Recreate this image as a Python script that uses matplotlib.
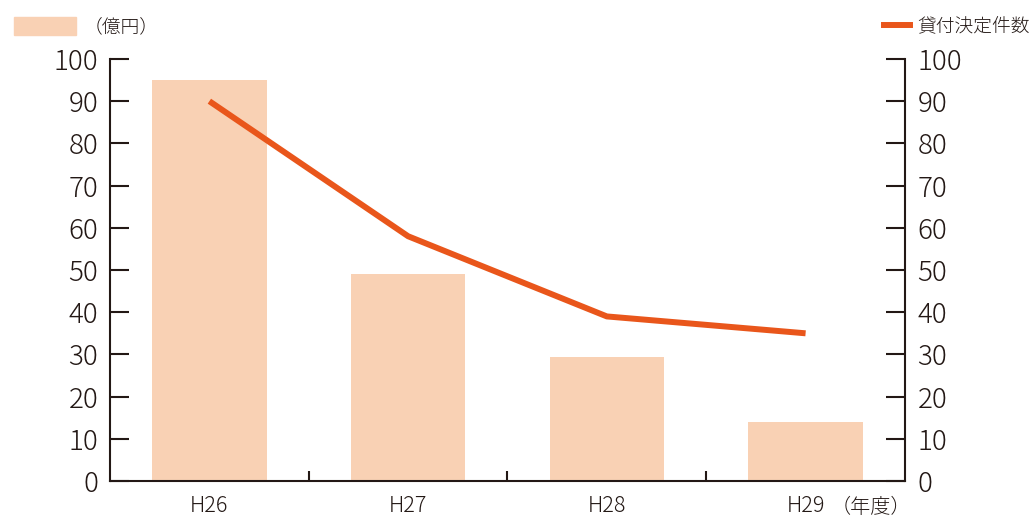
import matplotlib
matplotlib.use("Agg")
import matplotlib.pyplot as plt
from matplotlib.patches import Patch
from matplotlib.lines import Line2D

plt.rcParams['font.family'] = ['Noto Sans CJK JP', 'DejaVu Sans']
plt.rcParams['font.weight'] = 'light'

# data
years = ["H26", "H27", "H28", "H29"]
amount = [95, 49, 29.5, 14]        # 億円 (bars, left axis)
decisions = [90, 58, 39, 35]       # 貸付決定件数 (line, right axis)
yticks = list(range(0, 101, 10))

bar_color = "#F9D1B4"
line_color = "#E9561B"
ink = "#231815"

fig = plt.figure(figsize=(10.30, 5.17), dpi=100)
ax = fig.add_axes([0.1068, 0.0696, 0.7718, 0.8163])
ax2 = ax.twinx()

x = list(range(len(years)))
ax.bar(x, amount, width=0.575, color=bar_color, zorder=1)
ax2.plot(x, decisions, color=line_color, lw=4.3, solid_capstyle='butt', zorder=3)

for a in (ax, ax2):
    a.set_ylim(0, 100)
    a.set_xlim(-0.5, 3.5)
    a.set_yticks(yticks)
    for s in a.spines.values():
        s.set_color(ink)
        s.set_linewidth(1.5)
    a.spines['top'].set_visible(False)

ax.spines['right'].set_visible(False)
ax2.spines['left'].set_visible(False)
ax2.spines['bottom'].set_visible(False)

ax.tick_params(axis='y', direction='in', length=14, width=1.5, color=ink,
               labelsize=20, labelcolor=ink, pad=8.5)
ax2.tick_params(axis='y', direction='in', length=14, width=1.5, color=ink,
                labelsize=20, labelcolor=ink, pad=9)

# category labels centred, boundary ticks between bars
ax.set_xticks(x)
ax.set_xticklabels(years)
ax.set_xticks([0.5, 1.5, 2.5], minor=True)
ax.tick_params(axis='x', which='major', length=0, labelsize=15.5, labelcolor=ink, pad=10)
ax.tick_params(axis='x', which='minor', direction='in', length=7, width=1.5, color=ink)

ax.text(1.008, -0.062, "（年度）", transform=ax.transAxes, ha='right', va='center',
        fontsize=14.5, color=ink)

# legends
leg1 = fig.legend(handles=[Patch(color=bar_color, label="（億円）")],
                  loc='center left', bbox_to_anchor=(0.0136, 0.948),
                  frameon=False, borderpad=0, borderaxespad=0,
                  handlelength=3.3, handleheight=1.1, handletextpad=0.4,
                  fontsize=13.5, labelcolor=ink)
leg2 = fig.legend(handles=[Line2D([], [], color=line_color, lw=4.3, label="貸付決定件数")],
                  loc='center right', bbox_to_anchor=(1.0, 0.948),
                  frameon=False, borderpad=0, borderaxespad=0,
                  handlelength=1.4, handletextpad=0.4,
                  fontsize=13.5, labelcolor=ink)

fig.savefig("out.png", dpi=100)
